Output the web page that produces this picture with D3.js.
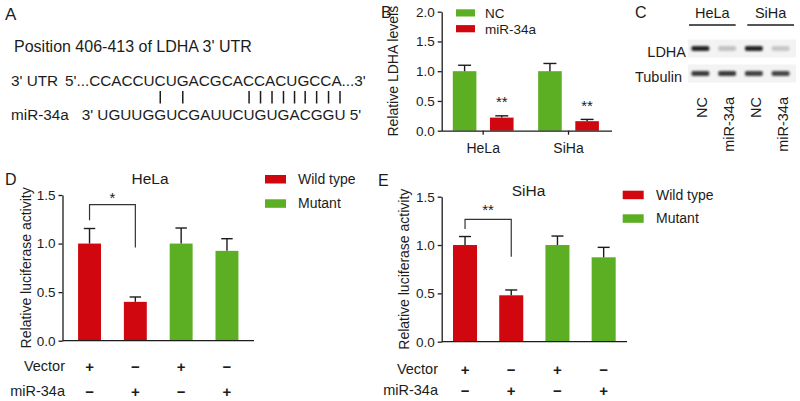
<!DOCTYPE html>
<html><head><meta charset="utf-8">
<script src="https://cdn.jsdelivr.net/npm/d3@7"></script>
<style>
body{margin:0;background:#fff}
svg text{font-family:"Liberation Sans",Arial,Helvetica,sans-serif;fill:#1c1c1c}
</style>
</head><body>
<svg id="c" width="800" height="401"></svg>
<script>
// ---------- data ----------
const utrSeq = "5'...CCACCUCUGACGCACCACUGCCA...3'";
const mirSeq = "UGUUGGUCGAUUCUGUGACGGU";
const pairedBases = [5, 7, 13, 14, 15, 16, 17, 18, 19, 20, 21];

const cellLinesB = ["HeLa", "SiHa"];
const treatB = ["NC", "miR-34a"];
const ldhaNC = [1.0, 1.0];
const ldhaNCerr = [0.10, 0.13];
const ldhaMiR = [0.22, 0.16];
const ldhaMiRerr = [0.03, 0.03];
const sigB = ["**", "**"];
const ticksB = [0, 0.5, 1.0, 1.5, 2.0];

const blotLanes = ["NC", "miR-34a", "NC", "miR-34a"];
const blotCells = ["HeLa", "SiHa"];
const blotRows = ["LDHA", "Tubulin"];
const ldhaBand = [0.95, 0.22, 0.95, 0.2];
const tubulinBand = [0.85, 0.85, 0.82, 0.8];

const lucGroups = ["WT-Vector", "WT-miR", "MUT-Vector", "MUT-miR"];
const lucType = ["Wild type", "Wild type", "Mutant", "Mutant"];
const vectorRow = ["+", "\u2212", "+", "\u2212"];
const mirRow = ["\u2212", "+", "\u2212", "+"];
const helaLuc = [1.0, 0.40, 1.0, 0.925];
const helaErr = [0.155, 0.05, 0.16, 0.125];
const sihaLuc = [1.0, 0.48, 1.0, 0.873];
const sihaErr = [0.088, 0.055, 0.093, 0.103];
const ticksDE = [0, 0.5, 1.0, 1.5];
const legendDE = ["Wild type", "Mutant"];

// ---------- setup ----------
const svg = d3.select("#c");
const FONT = '"Liberation Sans", Arial, Helvetica, sans-serif';
const INK = "#1c1c1c";
const RED = "#d0070f";
const GREEN = "#5cae22";
const typeColor = d3.scaleOrdinal().domain(["Wild type", "Mutant", "NC", "miR-34a"]).range([RED, GREEN, GREEN, RED]);

function txt(g, x, y, s, size, anchor = "start", weight = "normal") {
  return g.append("text").attr("x", x).attr("y", y).attr("font-size", size)
    .attr("text-anchor", anchor).attr("font-weight", weight).text(s);
}
function styleAxis(g, size = 13.5) {
  g.attr("font-family", FONT).attr("font-size", size);
  g.selectAll("path.domain").attr("stroke", INK).attr("stroke-width", 1.3);
  g.selectAll(".tick line").attr("stroke", INK).attr("stroke-width", 1.3);
  g.selectAll(".tick text").attr("fill", INK);
}
function errorBars(g, data, y, bw, capFrac) {
  g.selectAll(null).data(data).join("line")
    .attr("x1", d => d.cx).attr("x2", d => d.cx)
    .attr("y1", d => y(d.v)).attr("y2", d => y(d.v + d.e))
    .attr("stroke", INK).attr("stroke-width", 1.4);
  g.selectAll(null).data(data).join("line")
    .attr("x1", d => d.cx - bw * capFrac / 2).attr("x2", d => d.cx + bw * capFrac / 2)
    .attr("y1", d => y(d.v + d.e)).attr("y2", d => y(d.v + d.e))
    .attr("stroke", INK).attr("stroke-width", 1.4);
}

// ---------- Panel A ----------
const A = svg.append("g");
txt(A, 5, 20, "A", 17);
txt(A, 14, 52, "Position 406-413 of LDHA 3' UTR", 16);
txt(A, 11, 85.5, "3' UTR", 15.3);
txt(A, 65, 85.5, utrSeq, 15.3);
txt(A, 11, 120, "miR-34a", 15.3);
const mirPrefix = "3' ";
const mirText = txt(A, 81.7, 120, mirPrefix + mirSeq + " 5'", 15.3);
const mnode = mirText.node();
const charCenter = i => { const e = mnode.getExtentOfChar(i + mirPrefix.length); return e.x + e.width / 2; };
A.selectAll("line.pair").data(pairedBases).join("line").attr("class", "pair")
  .attr("x1", charCenter).attr("x2", charCenter)
  .attr("y1", 91).attr("y2", 103.5)
  .attr("stroke", INK).attr("stroke-width", 1.5);

// ---------- Panel B ----------
const B = svg.append("g");
txt(B, 381, 18, "B", 16);
const yB = d3.scaleLinear().domain([0, 2]).range([130.7, 11.7]);
const xB0 = d3.scaleBand().domain(cellLinesB).range([441.7, 610]).paddingInner(0.288).paddingOuter(0.13);
const xB1 = d3.scaleBand().domain(treatB).range([0, xB0.bandwidth()]).paddingInner(0.365);
const centerB = d => xB0(d.c) + xB1(d.t) + xB1.bandwidth() / 2;
const bDataNC = cellLinesB.map((c, i) => ({c, t: "NC", v: ldhaNC[i], e: ldhaNCerr[i]}));
const bDataMiR = cellLinesB.map((c, i) => ({c, t: "miR-34a", v: ldhaMiR[i], e: ldhaMiRerr[i], s: sigB[i]}));
const bData = bDataNC.concat(bDataMiR).map(d => ({...d, cx: centerB(d)}));
B.selectAll("rect.bar").data(bData).join("rect").attr("class", "bar")
  .attr("x", d => xB0(d.c) + xB1(d.t)).attr("width", xB1.bandwidth())
  .attr("y", d => yB(d.v)).attr("height", d => yB(0) - yB(d.v))
  .attr("fill", d => typeColor(d.t));
errorBars(B, bData, yB, xB1.bandwidth(), 0.55);
B.selectAll("text.sig").data(bData.filter(d => d.s)).join("text")
  .attr("class", "sig").attr("x", d => d.cx).attr("y", d => yB(d.v + d.e) - 8.5)
  .attr("text-anchor", "middle").attr("font-size", 15).text(d => d.s);
const axBy = B.append("g").attr("transform", `translate(${441.7},0)`)
  .call(d3.axisLeft(yB).tickValues(ticksB).tickFormat(d3.format(".1f")).tickSize(4).tickSizeOuter(0));
styleAxis(axBy, 13.5);
const axBx = B.append("g").attr("transform", `translate(0,${yB(0)})`)
  .call(d3.axisBottom(xB0).tickSize(4).tickSizeOuter(0).tickPadding(8));
styleAxis(axBx, 14);
axBx.select("path.domain").attr("d", `M${441.7},0.5H${612}`);
B.append("text").attr("transform", `translate(398,${(yB(0) + yB(2)) / 2}) rotate(-90)`)
  .attr("text-anchor", "middle").attr("font-size", 14).text("Relative LDHA levels");
const legB = B.selectAll("g.leg").data(treatB).join("g").attr("class", "leg")
  .attr("transform", (d, i) => `translate(456,${9.3 + i * 15.8})`);
legB.append("rect").attr("width", 19).attr("height", 7.2).attr("fill", d => typeColor(d));
legB.append("text").attr("x", 29).attr("y", 8.5).attr("font-size", 13.5).text(d => d);

// ---------- Panel C ----------
const C = svg.append("g");
txt(C, 635, 18, "C", 16);
const xLane = d3.scaleBand().domain(d3.range(blotLanes.length)).range([687, 794]);
const xCell = d3.scaleBand().domain(blotCells).range([689, 794]).paddingInner(0.2);
const yRow = d3.scalePoint().domain(blotRows).range([48.5, 73.5]);
const defs = svg.append("defs");
defs.append("filter").attr("id", "blur").attr("x", "-50%").attr("y", "-150%").attr("width", "200%").attr("height", "400%")
  .append("feGaussianBlur").attr("stdDeviation", "1.3 0.9");
C.selectAll("rect.strip").data(blotRows).join("rect").attr("class", "strip")
  .attr("x", 688).attr("width", 108).attr("y", d => yRow(d) - 9).attr("height", 18)
  .attr("fill", "#f3f3f3");
C.selectAll("text.cell").data(blotCells).join("text").attr("class", "cell")
  .attr("x", d => xCell(d) + xCell.bandwidth() / 2).attr("y", 18)
  .attr("text-anchor", "middle").attr("font-size", 14.5).text(d => d);
C.selectAll("line.cell").data(blotCells).join("line").attr("class", "cell")
  .attr("x1", d => xCell(d)).attr("x2", d => xCell(d) + xCell.bandwidth())
  .attr("y1", 25).attr("y2", 25).attr("stroke", INK).attr("stroke-width", 1.6);
C.selectAll("text.row").data(blotRows).join("text").attr("class", "row")
  .attr("x", (d, i) => i === 0 ? 686 : 682).attr("y", d => yRow(d) + 8)
  .attr("text-anchor", "end").attr("font-size", 14.5).text(d => d);
const bands = [];
ldhaBand.forEach((v, i) => bands.push({row: "LDHA", lane: i, v}));
tubulinBand.forEach((v, i) => bands.push({row: "Tubulin", lane: i, v}));
C.selectAll("rect.band").data(bands).join("rect").attr("class", "band")
  .attr("x", d => xLane(d.lane) + xLane.bandwidth() / 2 - 9).attr("width", 18)
  .attr("y", d => yRow(d.row) - 2.5).attr("height", 5).attr("rx", 2)
  .attr("fill", "#1a1a1a").attr("opacity", d => d.v).attr("filter", "url(#blur)");
C.selectAll("text.lane").data(blotLanes).join("text").attr("class", "lane")
  .attr("transform", (d, i) => `translate(${xLane(i) + xLane.bandwidth() / 2 + 2},97) rotate(-90)`)
  .attr("dy", "0.35em").attr("text-anchor", "end").attr("font-size", 14.5).text(d => d);

// ---------- Panels D & E ----------
function lucPanel(cfg) {
  const g = svg.append("g");
  txt(g, cfg.letterX, cfg.letterY, cfg.letter, 16);
  const y = d3.scaleLinear().domain([0, 1.5]).range(cfg.yRange);
  const x = d3.scaleBand().domain(lucGroups).range(cfg.xRange).paddingInner(cfg.pin).paddingOuter(cfg.pout);
  const data = lucGroups.map((k, i) => ({k, t: lucType[i], v: cfg.vals[i], e: cfg.errs[i], cx: x(k) + x.bandwidth() / 2}));
  g.selectAll("rect.bar").data(data).join("rect").attr("class", "bar")
    .attr("x", d => x(d.k)).attr("width", x.bandwidth())
    .attr("y", d => y(d.v)).attr("height", d => y(0) - y(d.v))
    .attr("fill", d => typeColor(d.t));
  errorBars(g, data, y, x.bandwidth(), 0.5);
  const ay = g.append("g").attr("transform", `translate(${cfg.xRange[0]},0)`)
    .call(d3.axisLeft(y).tickValues(ticksDE).tickFormat(d3.format(".1f")).tickSize(4).tickSizeOuter(0));
  styleAxis(ay, 13.5);
  g.append("line").attr("x1", cfg.xRange[0]).attr("x2", cfg.xRange[1])
    .attr("y1", y(0)).attr("y2", y(0)).attr("stroke", INK).attr("stroke-width", 1.3);
  g.append("text").attr("transform", `translate(${cfg.labelX},${(cfg.yRange[0] + cfg.yRange[1]) / 2}) rotate(-90)`)
    .attr("text-anchor", "middle").attr("font-size", 14).text("Relative luciferase activity");
  txt(g, cfg.titleX, cfg.titleY, cfg.title, 15.5, "middle");
  // significance bracket
  const b = cfg.bracket;
  const x0 = data[0].cx, x1 = data[1].cx;
  g.append("path").attr("fill", "none").attr("stroke", "#333").attr("stroke-width", 1.2)
    .attr("d", `M${x0},${y(b[1])}V${y(b[0])}H${x1}V${y(b[2])}`);
  txt(g, (x0 + x1) / 2, y(b[0]) - cfg.sigGap, cfg.sig, 15, "middle");
  // legend
  const leg = g.selectAll("g.leg").data(legendDE).join("g").attr("class", "leg")
    .attr("transform", (d, i) => `translate(${cfg.legX},${cfg.legY + i * cfg.legStep})`);
  leg.append("rect").attr("width", 21).attr("height", 8.5).attr("fill", d => typeColor(d));
  leg.append("text").attr("x", cfg.legTextDx).attr("y", 9).attr("font-size", 14).text(d => d);
  // condition rows
  const rows = [["Vector", vectorRow, cfg.row1], ["miR-34a", mirRow, cfg.row2]];
  rows.forEach(([name, signs, ry]) => {
    txt(g, cfg.rowLabelX, ry + 5, name, 14.5, "end");
    g.selectAll(null).data(signs).join("text")
      .attr("x", (d, i) => data[i].cx).attr("y", ry + 5.5)
      .attr("text-anchor", "middle").attr("font-size", 15).attr("font-weight", "bold").text(d => d);
  });
}

lucPanel({
  letter: "D", letterX: 5, letterY: 185, title: "HeLa", titleX: 150, titleY: 184,
  yRange: [340.7, 195], xRange: [62.5, 254], pin: 0.5, pout: 0.34,
  vals: helaLuc, errs: helaErr, labelX: 30.5,
  bracket: [1.40, 1.24, 0.96], sig: "*", sigGap: 1.5,
  legX: 265, legY: 175, legStep: 24.3, legTextDx: 33,
  rowLabelX: 65, row1: 366, row2: 391
});
lucPanel({
  letter: "E", letterX: 378, letterY: 186, title: "SiHa", titleX: 528.5, titleY: 196,
  yRange: [341.7, 196.7], xRange: [441.7, 627], pin: 0.48, pout: 0.245,
  vals: sihaLuc, errs: sihaErr, labelX: 409,
  bracket: [1.266, 1.166, 0.88], sig: "**", sigGap: 4,
  legX: 622.7, legY: 190.7, legStep: 23.6, legTextDx: 33.3,
  rowLabelX: 438, row1: 369, row2: 390
});
</script>
</body></html>
